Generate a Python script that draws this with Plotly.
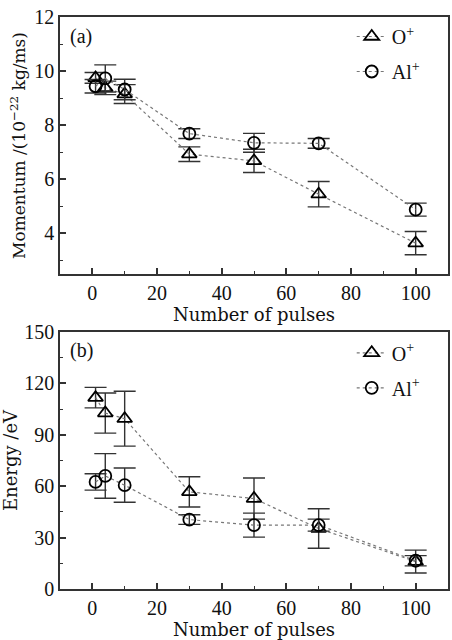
import plotly.graph_objects as go
from plotly.subplots import make_subplots

pulses = [1, 4, 10, 30, 50, 70, 100]

# (a) Momentum (10^-22 kg/ms)
mom_O = [9.75, 9.38, 9.15, 6.93, 6.68, 5.45, 3.64]
mom_O_err = [0.2, 0.25, 0.35, 0.27, 0.43, 0.47, 0.43]
mom_Al = [9.44, 9.73, 9.32, 7.69, 7.35, 7.33, 4.88]
mom_Al_err = [0.25, 0.5, 0.38, 0.18, 0.35, 0.18, 0.24]

# (b) Energy (eV)
en_O = [111.7, 102.7, 99.4, 56.7, 52.8, 35.3, 16.0]
en_O_err = [6.0, 11.7, 16.0, 8.8, 12.0, 11.5, 6.7]
en_Al = [62.5, 66.0, 60.6, 40.5, 37.3, 37.3, 16.5]
en_Al_err = [4.8, 13.0, 10.0, 2.8, 7.0, 3.5, 3.0]

series_names = ["O<sup>+</sup>", "Al<sup>+</sup>"]
FONT = "Liberation Serif, Times New Roman, serif"
TFONT = "DejaVu Serif, serif"
INK = "#111111"

fig = make_subplots(rows=2, cols=1, vertical_spacing=0.1014)

def add(row, y, err, name, symbol, legend, group):
    fig.add_trace(go.Scatter(
        x=pulses, y=y, name=name, mode="lines+markers",
        line=dict(color="#777777", width=1.2, dash="dot"),
        marker=dict(symbol=symbol, size=13 if "triangle" in symbol else 12,
                    color="black", line=dict(color="black", width=1.8)),
        error_y=dict(type="data", array=err, visible=True, color="#333333",
                     thickness=1.4, width=11),
        legend=legend, legendgroup=group + legend,
    ), row=row, col=1)

add(1, mom_O, mom_O_err, series_names[0], "triangle-up-open", "legend", "o")
add(1, mom_Al, mom_Al_err, series_names[1], "circle-open", "legend", "al")
add(2, en_O, en_O_err, series_names[0], "triangle-up-open", "legend2", "o")
add(2, en_Al, en_Al_err, series_names[1], "circle-open", "legend2", "al")

axis_common = dict(
    showline=True, linecolor="#333333", linewidth=1.5, mirror=True,
    ticks="inside", ticklen=6, tickwidth=1.5, tickcolor="#333333",
    showgrid=False, zeroline=False,
    tickfont=dict(family=FONT, size=20, color=INK),
)
xmin = dict(ticklen=3, tickcolor="#333333", tickwidth=1.2, ticks="inside", dtick=10, tick0=0, showgrid=False)

fig.update_xaxes(range=[-10, 110], tickvals=[0, 20, 40, 60, 80, 100],
                 minor=xmin,
                 title=dict(text="Number of pulses", font=dict(family=TFONT, size=18, color=INK), standoff=0),
                 **axis_common)
fig.update_yaxes(row=1, col=1, range=[2.5, 12], tickvals=[4, 6, 8, 10, 12],
                 minor=dict(ticklen=3, tickcolor="#333333", tickwidth=1.2, ticks="inside", dtick=1, tick0=0, showgrid=False),
                 title=dict(text="Momentum /(10<sup>−22</sup> kg/ms)", font=dict(family=TFONT, size=17, color=INK), standoff=4),
                 **axis_common)
fig.update_yaxes(row=2, col=1, range=[0, 150], tickvals=[0, 30, 60, 90, 120, 150],
                 minor=dict(ticklen=3, tickcolor="#333333", tickwidth=1.2, ticks="inside", dtick=15, tick0=0, showgrid=False),
                 title=dict(text="Energy /eV", font=dict(family=TFONT, size=18, color=INK), standoff=4),
                 **axis_common)

leg = dict(font=dict(family=FONT, size=20, color=INK), bgcolor="rgba(0,0,0,0)",
           xanchor="right", yanchor="top", traceorder="grouped", tracegroupgap=6,
           itemwidth=30)
fig.update_layout(
    width=452, height=640, paper_bgcolor="white", plot_bgcolor="white",
    margin=dict(l=60, r=2, t=17, b=51),
    showlegend=True,
    legend=dict(x=0.94, y=1.0, **leg),
    legend2=dict(x=0.94, y=0.447, **leg),
    annotations=[
        dict(text="(a)", xref="paper", yref="paper", x=0.02, y=0.99, xanchor="left", yanchor="top",
             showarrow=False, font=dict(family=FONT, size=20, color=INK)),
        dict(text="(b)", xref="paper", yref="paper", x=0.02, y=0.44, xanchor="left", yanchor="top",
             showarrow=False, font=dict(family=FONT, size=20, color=INK)),
    ],
)
fig.write_html("out.html")
